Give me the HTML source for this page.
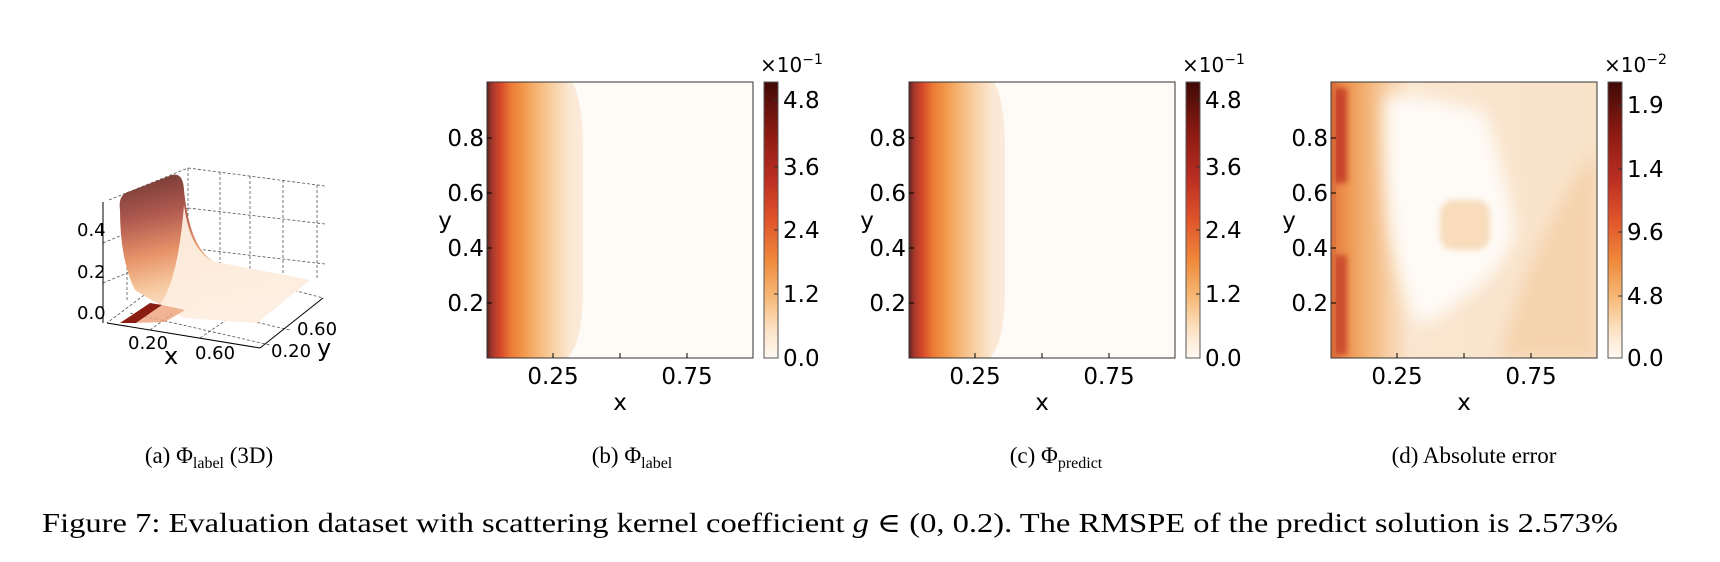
<!DOCTYPE html>
<html><head><meta charset="utf-8"><style>
html,body{margin:0;padding:0;background:#fff;}
svg{display:block;}
.t{font-family:"DejaVu Sans",sans-serif;fill:#000;}
.s{font-family:"Liberation Serif","DejaVu Serif",serif;fill:#000;}
</style></head><body>
<svg width="1720" height="562" viewBox="0 0 1720 562" xmlns="http://www.w3.org/2000/svg">
<defs>
<linearGradient id="gb" x1="0" x2="1" y1="0" y2="0">
<stop offset="0" stop-color="#5e2520"/>
<stop offset="0.02" stop-color="#a8382c"/>
<stop offset="0.05" stop-color="#d5482a"/>
<stop offset="0.09" stop-color="#ec7a35"/>
<stop offset="0.14" stop-color="#f29a4c"/>
<stop offset="0.19" stop-color="#f5b677"/>
<stop offset="0.25" stop-color="#f8d1a6"/>
<stop offset="0.31" stop-color="#fbe7d2"/>
<stop offset="0.36" stop-color="#fbebdc"/>
<stop offset="1" stop-color="#fbebdc"/>
</linearGradient>
<linearGradient id="cb" x1="0" x2="0" y1="1" y2="0">
<stop offset="0" stop-color="#fff9f2"/>
<stop offset="0.1" stop-color="#fce3c6"/>
<stop offset="0.22" stop-color="#f6b978"/>
<stop offset="0.35" stop-color="#ef8a3c"/>
<stop offset="0.5" stop-color="#e0542a"/>
<stop offset="0.65" stop-color="#bb2e22"/>
<stop offset="0.82" stop-color="#8a1a12"/>
<stop offset="1" stop-color="#3f0a06"/>
</linearGradient>
<linearGradient id="gd" x1="0" x2="1" y1="0" y2="0">
<stop offset="0" stop-color="#e4763e"/>
<stop offset="0.06" stop-color="#ee9650"/>
<stop offset="0.13" stop-color="#f3b173"/>
<stop offset="0.22" stop-color="#f7d0a8"/>
<stop offset="0.3" stop-color="#fae6d0"/>
<stop offset="1" stop-color="#f8e2c8"/>
</linearGradient>
<filter id="bl" x="-20%" y="-20%" width="140%" height="140%"><feGaussianBlur stdDeviation="8"/></filter>
<filter id="bl2" x="-50%" y="-50%" width="200%" height="200%"><feGaussianBlur stdDeviation="3"/></filter>
<clipPath id="cd"><rect x="1331" y="82" width="266" height="276"/></clipPath>
<linearGradient id="ga" x1="0" x2="0.3" y1="0" y2="1">
<stop offset="0" stop-color="#6a3530"/>
<stop offset="0.3" stop-color="#b05a50"/>
<stop offset="0.55" stop-color="#e8956a"/>
<stop offset="0.75" stop-color="#f6c9a0"/>
<stop offset="1" stop-color="#fdf1e6"/>
</linearGradient>
</defs>

<!-- Panel a: 3D -->
<g stroke="#555" stroke-width="0.8" stroke-dasharray="3,2" fill="none">
<line x1="188" y1="168" x2="188" y2="262"/>
<line x1="188" y1="168" x2="325" y2="186"/>
<line x1="188" y1="208" x2="325" y2="224"/>
<line x1="188" y1="248" x2="325" y2="264"/>
<line x1="220" y1="172" x2="220" y2="266"/>
<line x1="250" y1="176" x2="250" y2="270"/>
<line x1="283" y1="180" x2="283" y2="274"/>
<line x1="317" y1="185" x2="317" y2="279"/>
<line x1="109" y1="200" x2="188" y2="168"/>
<line x1="103" y1="243" x2="188" y2="208"/>
<line x1="103" y1="283" x2="188" y2="248"/>
<line x1="127" y1="192" x2="127" y2="300"/>
<line x1="157" y1="180" x2="157" y2="290"/>
<line x1="188" y1="262" x2="323" y2="298"/>
<line x1="188" y1="262" x2="107" y2="323"/>
<line x1="150" y1="330" x2="235" y2="268"/>
<line x1="200" y1="338" x2="285" y2="280"/>
<line x1="160" y1="300" x2="290" y2="330"/>
<line x1="130" y1="313" x2="270" y2="345"/>
</g>
<path d="M120 210 Q118 195 128 192 L172 175 Q183 172 184 190 Q190 250 215 262 L310 280 L257 323 L185 318 Q150 300 135 290 Q120 260 120 210Z" fill="url(#ga)"/>
<path d="M184 205 Q190 252 215 262 L310 280 L257 323 L185 318 L160 305 Q178 280 184 205Z" fill="#fdeee0" opacity="0.95"/>
<path d="M120 323 L150 303 L162 305 L136 323 Z" fill="#8a1c12"/>
<path d="M136 323 L162 305 L185 310 L165 322 Z" fill="#eea27a" opacity="0.8"/>
<g stroke="#000" stroke-width="1" fill="none">
<line x1="103" y1="202" x2="103" y2="323"/>
<line x1="107" y1="323" x2="260" y2="348"/>
<line x1="260" y1="348" x2="323" y2="298"/>
</g>
<g class="t" font-size="18">
<text x="77" y="236">0.4</text>
<text x="77" y="278">0.2</text>
<text x="77" y="319">0.0</text>
<text x="128" y="349">0.20</text>
<text x="195" y="359">0.60</text>
<text x="271" y="357">0.20</text>
<text x="297" y="335">0.60</text>
</g>
<text class="t" x="164" y="364" font-size="24">x</text>
<text class="t" x="317" y="356" font-size="24">y</text>

<!-- Panel b -->
<rect x="487" y="82" width="266" height="276" fill="url(#gb)"/>
<path d="M572 82 Q583 100 583 150 L583 290 Q583 340 568 358 L753 358 L753 82 Z" fill="#fefaf5"/>
<rect x="487" y="82" width="266" height="276" fill="none" stroke="#333" stroke-width="1"/>
<!-- Panel c -->
<rect x="909" y="82" width="266" height="276" fill="url(#gb)"/>
<path d="M994 82 Q1005 100 1005 150 L1005 290 Q1005 340 990 358 L1175 358 L1175 82 Z" fill="#fefaf5"/>
<rect x="909" y="82" width="266" height="276" fill="none" stroke="#333" stroke-width="1"/>

<!-- Panel d -->
<g clip-path="url(#cd)">
<rect x="1331" y="82" width="266" height="276" fill="url(#gd)"/>
<path d="M1597 150 Q1540 220 1500 358 L1597 358 Z" fill="#f5d3ad" filter="url(#bl)"/>
<path d="M1385 95 Q1430 95 1485 112 Q1505 170 1515 230 Q1505 275 1460 300 Q1430 330 1415 320 Q1398 280 1390 230 Q1382 160 1385 95Z" fill="#fefaf5" filter="url(#bl)"/>
<rect x="1440" y="200" width="50" height="50" rx="14" fill="#f8dcbc" filter="url(#bl2)"/>
<rect x="1333" y="88" width="14" height="95" fill="#c8442c" filter="url(#bl2)"/>
<rect x="1333" y="255" width="14" height="100" fill="#cc4d2e" filter="url(#bl2)"/>
<rect x="1331" y="82" width="5" height="276" fill="#d8703c" opacity="0.7"/>
</g>
<rect x="1331" y="82" width="266" height="276" fill="none" stroke="#333" stroke-width="1"/>

<!-- axis ticks -->
<g stroke="#000" stroke-width="1">
<line x1="553" y1="358" x2="553" y2="353"/><line x1="620" y1="358" x2="620" y2="353"/><line x1="687" y1="358" x2="687" y2="353"/>
<line x1="487" y1="138" x2="492" y2="138"/><line x1="487" y1="193" x2="492" y2="193"/><line x1="487" y1="248" x2="492" y2="248"/><line x1="487" y1="303" x2="492" y2="303"/>
<line x1="975" y1="358" x2="975" y2="353"/><line x1="1042" y1="358" x2="1042" y2="353"/><line x1="1109" y1="358" x2="1109" y2="353"/>
<line x1="909" y1="138" x2="914" y2="138"/><line x1="909" y1="193" x2="914" y2="193"/><line x1="909" y1="248" x2="914" y2="248"/><line x1="909" y1="303" x2="914" y2="303"/>
<line x1="1397" y1="358" x2="1397" y2="353"/><line x1="1464" y1="358" x2="1464" y2="353"/><line x1="1531" y1="358" x2="1531" y2="353"/>
<line x1="1331" y1="138" x2="1336" y2="138"/><line x1="1331" y1="193" x2="1336" y2="193"/><line x1="1331" y1="248" x2="1336" y2="248"/><line x1="1331" y1="303" x2="1336" y2="303"/>
</g>

<!-- axis labels -->
<g class="t" font-size="23">
<g text-anchor="end">
<text x="484" y="146">0.8</text><text x="484" y="201">0.6</text><text x="484" y="256">0.4</text><text x="484" y="311">0.2</text>
<text x="906" y="146">0.8</text><text x="906" y="201">0.6</text><text x="906" y="256">0.4</text><text x="906" y="311">0.2</text>
<text x="1328" y="146">0.8</text><text x="1328" y="201">0.6</text><text x="1328" y="256">0.4</text><text x="1328" y="311">0.2</text>
</g>
<g text-anchor="middle">
<text x="553" y="384">0.25</text><text x="687" y="384">0.75</text><text x="620" y="410">x</text>
<text x="975" y="384">0.25</text><text x="1109" y="384">0.75</text><text x="1042" y="410">x</text>
<text x="1397" y="384">0.25</text><text x="1531" y="384">0.75</text><text x="1464" y="410">x</text>
<text x="445" y="228">y</text><text x="867" y="228">y</text><text x="1289" y="228">y</text>
</g>
</g>

<!-- colorbars -->
<rect x="764" y="82" width="14" height="276" fill="url(#cb)" stroke="#555" stroke-width="1"/>
<rect x="1186" y="82" width="14" height="276" fill="url(#cb)" stroke="#555" stroke-width="1"/>
<rect x="1608" y="82" width="14" height="276" fill="url(#cb)" stroke="#555" stroke-width="1"/>
<g stroke="#333" stroke-width="1">
<line x1="774" y1="100" x2="778" y2="100"/><line x1="774" y1="167" x2="778" y2="167"/><line x1="774" y1="230" x2="778" y2="230"/><line x1="774" y1="294" x2="778" y2="294"/>
<line x1="1196" y1="100" x2="1200" y2="100"/><line x1="1196" y1="167" x2="1200" y2="167"/><line x1="1196" y1="230" x2="1200" y2="230"/><line x1="1196" y1="294" x2="1200" y2="294"/>
<line x1="1618" y1="105" x2="1622" y2="105"/><line x1="1618" y1="169" x2="1622" y2="169"/><line x1="1618" y1="232" x2="1622" y2="232"/><line x1="1618" y1="296" x2="1622" y2="296"/>
</g>
<g class="t" font-size="23">
<text x="783" y="108">4.8</text><text x="783" y="175">3.6</text><text x="783" y="238">2.4</text><text x="783" y="302">1.2</text><text x="783" y="366">0.0</text>
<text x="1205" y="108">4.8</text><text x="1205" y="175">3.6</text><text x="1205" y="238">2.4</text><text x="1205" y="302">1.2</text><text x="1205" y="366">0.0</text>
<text x="1627" y="113">1.9</text><text x="1627" y="177">1.4</text><text x="1627" y="240">9.6</text><text x="1627" y="304">4.8</text><text x="1627" y="366">0.0</text>
</g>
<g class="t" font-size="20">
<text x="760" y="72">×10<tspan font-size="14" dy="-8">−1</tspan></text>
<text x="1182" y="72">×10<tspan font-size="14" dy="-8">−1</tspan></text>
<text x="1604" y="72">×10<tspan font-size="14" dy="-8">−2</tspan></text>
</g>

<!-- captions -->
<g class="s" font-size="23" text-anchor="middle">
<text x="209" y="463">(a) Φ<tspan font-size="16" dy="5">label</tspan><tspan dy="-5"> (3D)</tspan></text>
<text x="632" y="463">(b) Φ<tspan font-size="16" dy="5">label</tspan></text>
<text x="1056" y="463">(c) Φ<tspan font-size="16" dy="5">predict</tspan></text>
<text x="1474" y="463">(d) Absolute error</text>
</g>
<text class="s" x="42" y="532" font-size="27" textLength="1576" lengthAdjust="spacingAndGlyphs">Figure 7: Evaluation dataset with scattering kernel coefficient <tspan font-style="italic">g</tspan> ∈ (0, 0.2). The RMSPE of the predict solution is 2.573%</text>
</svg>
</body></html>
